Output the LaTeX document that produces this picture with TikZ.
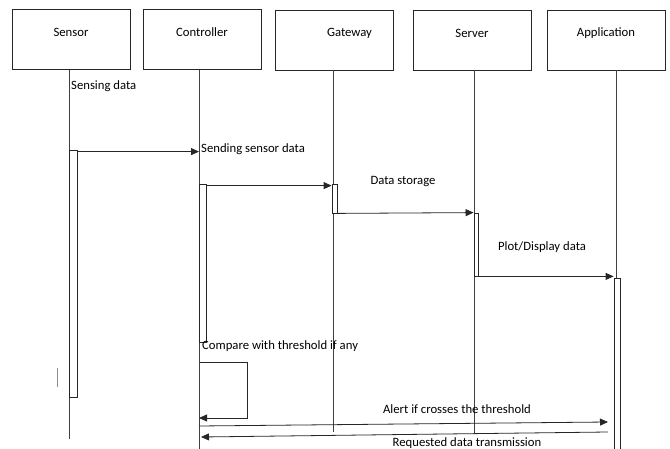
\documentclass[tikz,border=0pt]{standalone}
\usepackage{fontspec}
\setmainfont{Carlito}
\usetikzlibrary{arrows.meta}

\tikzset{
  head/.style={draw=black!85, line width=0.8pt, minimum width=118pt, minimum height=60pt, inner sep=0pt},
  life/.style={draw=black!75, line width=0.7pt},
  act/.style={draw=black!85, line width=0.8pt, fill=white, inner sep=0pt},
  msg/.style={draw=black!85, line width=0.8pt, -{Triangle[length=8pt,width=7pt]}},
  txt/.style={font=\fontsize{12.7}{14}\selectfont, inner sep=1pt},
}

\begin{document}
\begin{tikzpicture}[x=1pt, y=-1pt]
  \useasboundingbox (0,0) rectangle (670,449);
  % heads
  \node [head] (S) at (71,39.5) {};
  \node [txt] (Slabel) at (71,32) {Sensor};
  \node [head] (C) at (202,39.5) {};
  \node [txt] (Clabel) at (202,32) {Controller};
  \node [head] (G) at (334.5,40) {};
  \node [txt] (Glabel) at (349.5,33) {Gateway};
  \node [head] (SV) at (472,40) {};
  \node [txt] (SVlabel) at (472,33) {Server};
  \node [head] (AP) at (606.5,40) {};
  \node [txt] (APlabel) at (606,33) {Application};
  % lifeline ends
  \coordinate (Send) at (69,439);
  \coordinate (Cend) at (199,449);
  \coordinate (Gend) at (333,432);
  \coordinate (SVend) at (474,433);
  \coordinate (APend) at (616,449);
  \draw [life] (S.south -| Send) -- (Send);
  \draw [life] (C.south -| Cend) -- (Cend);
  \draw [life] (G.south -| Gend) -- (Gend);
  \draw [life] (SV.south -| SVend) -- (SVend);
  \draw [life] (AP.south -| APend) -- (APend);
  % activations
  \node [act, minimum width=8pt, minimum height=247pt] (Sa) at (73,273.5) {};
  \node [act, minimum width=7pt, minimum height=158pt] (Ca) at (202.5,263) {};
  \node [act, minimum width=5pt, minimum height=29pt] (Ga) at (334.5,198.5) {};
  \node [act, minimum width=4pt, minimum height=63pt] (SVa) at (476,244.5) {};
  \node [act, minimum width=6pt, minimum height=173pt] (APa) at (617,364.5) {};
  \draw [life, draw=black!45] (57,368) -- (57,387);
  % messages
  \node [txt, anchor=west] (m0) at (70,86) {Sensing data};
  \draw [msg] ([yshift=-2pt]Sa.north east) -- ([yshift=-2pt]Sa.north east -| Cend);
  \node [txt, anchor=west] (m1) at (200,149) {Sending sensor data};
  \draw [msg] ([yshift=-2pt]Ca.north east) -- ([yshift=-2pt]Ga.north west);
  \node [txt] (m2) at (403,182) {Data storage};
  \draw [msg] (Ga.south east) -- (SVa.north west);
  \node [txt] (m3) at (542,247) {Plot/Display data};
  \draw [msg] (SVa.south east) -- (SVa.south east -| APa.west);
  \node [txt, anchor=west] (m4) at (201,346) {Compare with threshold if any};
  \coordinate (Ls) at (200,362);
  \coordinate (Le) at (199,418);
  \draw [msg] (Ls) -- ++(47,0) |- (Le);
  \coordinate (A1) at (199,426);
  \coordinate (A2) at (608,422);
  \draw [msg] (A1) -- (A2);
  \node [txt] (m5) at (457,409) {Alert if crosses the threshold};
  \coordinate (R1) at (608,432);
  \coordinate (R2) at (201,437);
  \draw [msg] (R1) -- (R2);
  \node [txt] (m6) at (467,443) {Requested data transmission};
\end{tikzpicture}
\end{document}
